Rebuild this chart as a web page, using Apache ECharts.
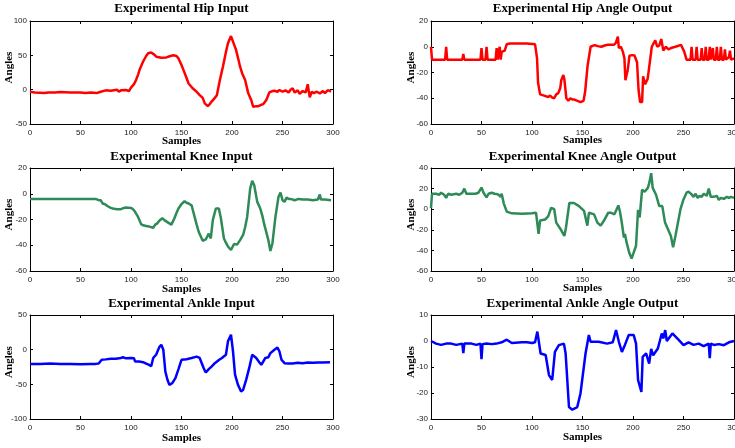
<!DOCTYPE html>
<html>
<head>
<meta charset="utf-8">
<script src="https://cdn.jsdelivr.net/npm/echarts@6/dist/echarts.min.js"></script>
<style>
html,body{margin:0;padding:0;background:#fff;}
#c{width:735px;height:448px;}
</style>
</head>
<body>
<div id="c"></div>
<script>
// ---------- DATA ----------
const titles = ['Experimental Hip Input','Experimental Hip Angle Output','Experimental Knee Input','Experimental Knee Angle Output','Experimental Ankle Input','Experimental Ankle Angle Output'];
const xTicks = [0,50,100,150,200,250,300];

const hipInX = [0,5,10,14,18,25,30,40,50,55,60,66,70,75,80,86,88,90,95,98,100,103,105,107,109,112,115,117,120,123,125,130,135,139,142,145,147,150,152,155,157,161,165,168,171,173,176,178,180,183,185,188,191,194,196,199,201,204,206,208,210,213,216,219,221,224,226,229,231,234,237,240,242,245,247,250,253,256,258,260,262,265,267,270,273,275,276,277,279,281,284,287,290,292,295,298];
const hipInY = [-3,-4,-4.5,-5,-4,-4,-3.5,-4,-4,-5,-4,-5,-3,-1,-1.5,0,-3,-1,-0.5,-2,3,8,14,22,31,41,49,53,54,51,48,46.5,47,49,50,49,45.5,36,28.5,17,9,2,-3,-8,-12,-20,-24,-21,-17,-12,-8,14,33.5,55,67.5,78,70,58,46,33.5,24,14,-5,-15,-25,-24,-24,-22,-21,-15,-4,-2,-1.5,-3,-0.5,-3,-1,-4,0,2,-4,-1,-6,-2,-4,8,-2,-11,-3,-5,-3,-5.5,-2,-5,-0.5,-3];

const hipOutX = [0,1,14,15,16,31,32,33,49,50,51,54,55,56,64,65,66,67,68,69,70,73,75,78,85,95,103,105,106,108,112,116,118,120,122,124,126,128,129,131,132,134,136,138,140,142,145,148,151,152.6,155,158,162,165,168.6,172,175,181,183,185,186,188,190,191.5,192.5,194.8,196.5,199,201.5,204,205.5,207,209,210,212,214.5,216,218.6,222,224,226,228,230,232.6,235,237.6,242,247.5,250.8,253,257,258,259,262,263,264,267,268,269,271,272,273,275,276,277,278,279,280,282,283,284,286,287,288,290,291,292,295,296,297,300];
const hipOutY = [0,-10,-10,0,-10,-10,-5.6,-10,-10,-1,-10,-10,0,-10,-10,-1,-10,-10,0,-10,-4,-3,2,2.5,2.5,2.5,2,-9,-28,-37,-38,-39,-38,-39.5,-40,-37,-36,-32,-26,-22,-25,-40,-42,-40,-41,-41,-42,-43,-42,-35,-15,0,1.3,0.5,0,1,1.5,1.5,3,7.8,-1,0,-4,-9,-26,-18,-7,-6.5,-6.8,-12,-33.6,-43,-43,-23,-29,-25,-16,0,5,0,1,6,-3,0,-2,-1,0,1.5,-4,-10,-10,0,-10,-10,0,-10,-10,-1,-10,-10,0,-10,-10,0,-10,-10,-1,-10,-10,0,-10,-10,0,-10,-10,-2,-10,-8,-3,-10,-9];

const kneeInX = [0,10,20,30,40,50,60,65,68,70,72,75,77,80,82,86,90,93,95,100,102,104,107,110,112,115,118,122,124,126,128,131,133,136,138,140,143,145,147,150,153,155,157,160,163,165,167,169,171,174,177,179,181,184,187,189,192,194,196,199,202,205,208,211,213,215,218,220,222,225,228,230,232,234,236,238,240,243,246,248,250,252,254,256,258,262,266,270,275,280,285,287,288,292,298];
const kneeInY = [-4,-4,-4,-4,-4,-4,-4,-4,-5,-5,-7.6,-8.5,-9.7,-11,-11.5,-12,-12,-11,-10.7,-11,-12,-14,-18,-23.6,-24.5,-25,-25.5,-26.4,-24,-23,-21,-19,-20.5,-22,-23,-24,-19,-15,-11.5,-8,-5.8,-7,-7.6,-9,-18,-24,-29.5,-33,-36.5,-35.5,-31,-34.7,-20.5,-11.5,-11.5,-19,-34.7,-38,-41,-43.7,-39,-39.5,-36,-32,-26,-18,4,10,6.6,-6.3,-11.5,-17,-24,-30,-36,-44.5,-38.6,-18,-2.5,1,-5,-6.3,-3,-4,-4,-5,-4,-4.5,-4.5,-5,-4.5,-0.6,-4.5,-4.5,-5];

const kneeOutX = [0,1,5,8,10,13,15,17,20,25,28,31,33,35,40,44,47,50,52,55,57,60,63,65,67,69,70,72,75,80,90,100,104,106.5,108,113,116,119,122,124,128.7,132,133.6,137,141.5,146.5,151.5,154.8,156.4,161.5,164.7,168,171.3,175.5,178,181.6,185.5,187,188.6,191,192,193.6,196.2,198.6,200,203,205,206.6,209,211.5,214.7,216,218,219.5,222.8,226,229,231.7,234,237.5,239.7,242,247,250,253,255,258,260,262,264,266,268,270,273,275,277,278,280,283,285,287,290,293,295,297,300];
const kneeOutY = [1,15,15,14,16,14,11,15,14,15,14,16,20,15,15,15,16,21,16,11.5,15,16,15,14.7,14,12,15,5.7,-2.3,-4,-4.5,-4,-3.4,-24,-11,-10,-7,1.4,0,-13,-20,-26,-18,6,6,3,-1.6,-16,-3.4,-5,-13,-16,-11,-3.4,-3.4,-5,3.7,-2,-11,-27.5,-24,-32,-42,-48,-48,-35.5,-0.5,-8,19,17,20.7,25,35,20.7,14,3,3,-13,-18,-26,-37,-26,0,9.5,16,17,14.4,12,15,11,13,12,15,13,20,12,10.5,12,13,9,11,10,12,11,12,11];

const ankleInX = [0,10,20,30,40,50,60,65,68,71,75,80,85,90,92,95,100,103,104,108,112,115,118,120,122,125,128,130,132,134,136,138,141,144,147,150,155,160,165,168,172,174,177,180,183,187,190,194,196,199,201,203,206,209,211,214,217,220,224,227,229,233,236,238,242,245,247,249,252,256,260,265,270,275,280,285,290,297];
const ankleInY = [-20.5,-20.5,-20,-20.5,-20.5,-21,-20.5,-20.5,-20,-14.6,-14,-13,-13,-12,-11,-12.5,-12,-12.5,-17,-17,-18,-20,-22,-24,-12,-7,3.7,7,-0.2,-31.5,-43,-50.8,-48,-41,-28,-14.6,-13.7,-12,-10,-12,-26.7,-33,-28,-24,-19.5,-15,-12,-7.4,12,21.5,-2.6,-36,-51,-60.4,-58,-43.6,-26.7,-7.4,-12,-18,-21.8,-12,-11,-5,-0.2,3,-2.6,-14.6,-19.5,-20,-20,-19,-19.5,-18.5,-19,-18.5,-18.5,-18];

const ankleOutX = [0,5,10,15,20,25,31,32,33,40,45,49,50,51,55,60,65,70,75,80,90,95,100,103,105.3,108.5,113.5,116.8,120,121.8,122.7,126.6,131.6,133.3,136.6,139.9,144.8,148,153,156.3,158,166,174.4,180,183.2,186,189,192,195.8,200.7,203,205,208.3,209.6,211.5,213,216,218,220,224.6,228.5,230,231.9,233.5,239,245,250,255,260,265,270,275,276,277,280,285,290,295,300];
const ankleOutY = [0,-1,-1.5,-1,-1,-1.5,-1,-4.7,-1,-1,-1.5,-1,-7,-1.2,-1,-1.2,-1,-0.5,0.5,-0.8,-0.5,-0.5,-0.8,-0.5,3.6,-4.8,-5.4,-13.1,-15,-15.7,-4.2,-1.6,-1,-4.8,-25.4,-26.4,-25.4,-20.2,-4.8,2.3,-0.3,-0.3,-1,-0.5,4.2,-0.3,-4.2,-1.5,2.3,2.3,-1,-15,-19.6,-6.1,-6.5,-4.8,-8.7,-3,-5.5,-2.9,2.9,1,4.2,0,2.9,0.5,-1.6,-0.5,-1.5,-1,-2,-1,-6.6,-1,-1.5,-1.2,-1.6,-0.5,0];

const seriesX = [hipInX, hipOutX, kneeInX, kneeOutX, ankleInX, ankleOutX];
const seriesY = [hipInY, hipOutY, kneeInY, kneeOutY, ankleInY, ankleOutY];
const yMin = [-50,-60,-60,-60,-100,-30];
const yMax = [100,20,20,40,50,10];
const yInterval = [50,20,20,20,50,10];
const colors = ['#ff0000','#ff0000','#2e8b57','#2e8b57','#0000ff','#0000ff'];

// ---------- LAYOUT ----------
const colLeft = [30, 431];
const plotW = 303;
const rowTop = [21, 168, 315];
const rowH = [103, 103, 104];
const titleTop = [2, 150.5, 297.5];
const xNameGapL = [12, 13, 14];
const xNameGapR = [11, 12, 12.5];

const serif = 'Liberation Serif, Times New Roman, serif';
const sans = 'Liberation Sans, Arial, sans-serif';

const grid = [], xAxis = [], yAxis = [], series = [], title = [];
for (let g = 0; g < 6; g++) {
  const row = Math.floor(g / 2), col = g % 2;
  grid.push({left: colLeft[col], top: rowTop[row], width: plotW, height: rowH[row], containLabel: false, outerBoundsMode: 'none'});
  title.push({text: titles[g], left: colLeft[col] + plotW / 2, top: titleTop[row], textAlign: 'center', padding: 0,
    textStyle: {fontFamily: serif, fontWeight: 'bold', fontSize: 13, color: '#000'}});
}
const axLine = {show: true, onZero: false, lineStyle: {color: '#000', width: 1}};
const tick = {show: true, inside: true, length: 3, lineStyle: {color: '#000', width: 1}};
for (let g = 0; g < 6; g++) {
  const row = Math.floor(g / 2), col = g % 2;
  xAxis.push({type: 'value', gridIndex: g, position: 'bottom', min: 0, max: 300, interval: 50,
    name: 'Samples', nameLocation: 'middle', nameMoveOverlap: false, nameGap: col === 0 ? xNameGapL[row] : xNameGapR[row],
    nameTextStyle: {fontFamily: serif, fontWeight: 'bold', fontSize: 11, color: '#000', verticalAlign: 'top'},
    axisLine: axLine, axisTick: tick, splitLine: {show: false},
    axisLabel: {fontFamily: sans, fontSize: 8, color: '#222', margin: 4.5, showMinLabel: true, showMaxLabel: true}});
  yAxis.push({type: 'value', gridIndex: g, position: 'left', min: yMin[g], max: yMax[g], interval: yInterval[g],
    name: 'Angles', nameLocation: 'middle', nameMoveOverlap: false, nameGap: col === 0 ? 15 : 14,
    nameTextStyle: {fontFamily: serif, fontWeight: 'bold', fontSize: 11, color: '#000', padding: [0, 0, 0, 10]},
    axisLine: axLine, axisTick: tick, splitLine: {show: false},
    axisLabel: {fontFamily: sans, fontSize: 8, color: '#222', margin: 3, showMinLabel: true, showMaxLabel: true}});
}
for (let g = 0; g < 6; g++) {
  xAxis.push({type: 'value', gridIndex: g, position: 'top', min: 0, max: 300, interval: 50,
    axisLine: axLine, axisTick: tick, axisLabel: {show: false}, splitLine: {show: false}});
  yAxis.push({type: 'value', gridIndex: g, position: 'right', min: yMin[g], max: yMax[g], interval: yInterval[g],
    axisLine: axLine, axisTick: tick, axisLabel: {show: false}, splitLine: {show: false}});
}
for (let g = 0; g < 6; g++) {
  series.push({type: 'line', xAxisIndex: g, yAxisIndex: g, showSymbol: false, symbol: 'none',
    data: seriesX[g].map((x, i) => [x, seriesY[g][i]]),
    lineStyle: {color: colors[g], width: 2.5}, itemStyle: {color: colors[g]}, clip: true});
}

const chart = echarts.init(document.getElementById('c'), null, {renderer: 'canvas'});
chart.setOption({animation: false, backgroundColor: '#fff', title, grid, xAxis, yAxis, series});
</script>
</body>
</html>
